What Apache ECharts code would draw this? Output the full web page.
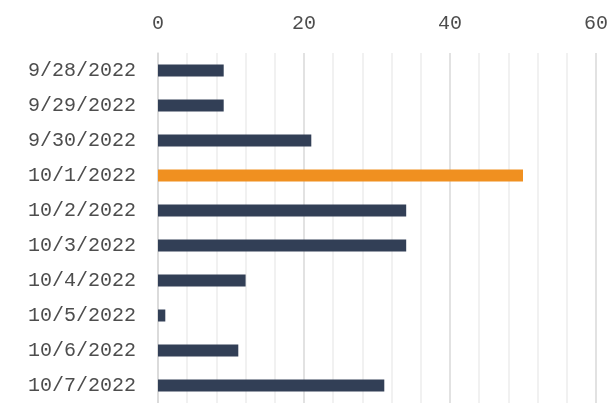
<!DOCTYPE html>
<html>
<head>
<meta charset="utf-8">
<script src="https://cdn.jsdelivr.net/npm/echarts@6/dist/echarts.min.js"></script>
<style>
  html, body { margin: 0; padding: 0; background: #fff; }
  #chart { width: 611px; height: 403px; }
</style>
</head>
<body>
<div id="chart"></div>
<script>
  const dates = ['9/28/2022', '9/29/2022', '9/30/2022', '10/1/2022', '10/2/2022',
                 '10/3/2022', '10/4/2022', '10/5/2022', '10/6/2022', '10/7/2022'];
  const counts = [9, 9, 21, 50, 34, 34, 12, 1, 11, 31];
  const highlightDate = '10/1/2022';
  const xTicks = [0, 20, 40, 60];

  const navy = '#323f56';
  const orange = '#f09020';
  const font = '"Liberation Mono", monospace';

  const chart = echarts.init(document.getElementById('chart'), null, { renderer: 'canvas' });

  chart.setOption({
    animation: false,
    grid: { left: 158, right: 13, top: 53, height: 355, containLabel: false },
    xAxis: {
      type: 'value',
      position: 'top',
      min: xTicks[0],
      max: xTicks[xTicks.length - 1],
      interval: xTicks[1] - xTicks[0],
      axisLine: { show: false },
      axisTick: { show: false },
      axisLabel: { margin: 19, fontSize: 20, color: '#4d4d4d', fontFamily: font },
      splitLine: { show: true, lineStyle: { color: '#d9d9d9', width: 1.5 } },
      minorTick: { show: false, splitNumber: 5 },
      minorSplitLine: { show: true, lineStyle: { color: '#ededed', width: 1.5 } }
    },
    yAxis: {
      type: 'category',
      data: dates,
      inverse: true,
      axisLine: { show: true, lineStyle: { color: '#d9d9d9', width: 1.5 } },
      axisTick: { show: false },
      axisLabel: { margin: 22, fontSize: 20, color: '#4d4d4d', fontFamily: font }
    },
    series: [{
      type: 'bar',
      barWidth: 12,
      data: counts.map((v, i) => ({
        value: v,
        itemStyle: { color: dates[i] === highlightDate ? orange : navy }
      }))
    }]
  });
</script>
</body>
</html>
